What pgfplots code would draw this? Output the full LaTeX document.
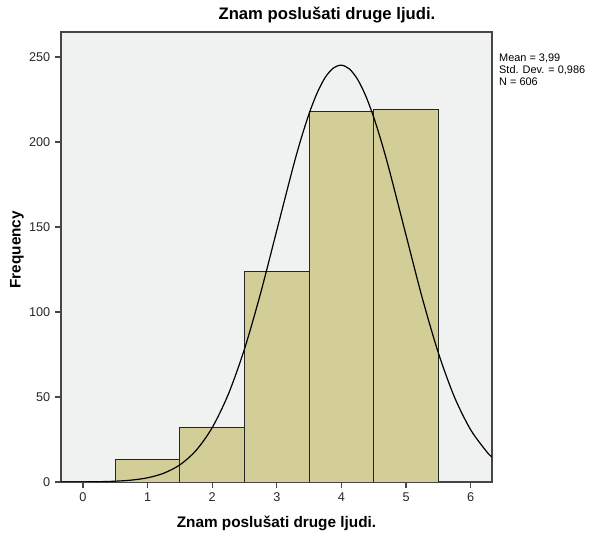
\documentclass[border=0pt]{standalone}
\usepackage{fontspec}
\setmainfont{Liberation Sans}
\setsansfont{Liberation Sans}
\usepackage{pgfplots}
\pgfplotsset{compat=1.18}

\definecolor{barfill}{RGB}{211,206,151}
\definecolor{plotbg}{RGB}{240,241,241}
\definecolor{frame}{RGB}{70,70,70}

\begin{document}
\begin{tikzpicture}
\begin{axis}[
    scale only axis,
    width=323.25pt, height=337.5pt,
    xmin=-0.34, xmax=6.33,
    ymin=0, ymax=264.7,
    xtick={0,1,2,3,4,5,6},
    ytick={0,50,100,150,200,250},
    tick align=outside,
    xtick pos=left, ytick pos=left,
    major tick length=4.5pt,
    axis line style={frame, line width=1.1pt},
    every tick/.style={frame, line width=1pt},
    axis background/.style={fill=plotbg},
    /pgf/number format/assume math mode=true,
    ticklabel style={font=\fontsize{9.5}{10}\selectfont, text=black!85},
    title={Znam poslušati druge ljudi.},
    title style={at={(axis description cs:0.617,1.038)}, anchor=center, yshift=-6pt, font=\fontsize{12.5}{14}\selectfont\bfseries},
    xlabel={Znam poslušati druge ljudi.},
    xlabel style={at={(axis description cs:0.5,-0.091)}, anchor=center, font=\fontsize{11.5}{13}\selectfont\bfseries},
    ylabel={Frequency},
    ylabel style={at={(axis description cs:-0.102,0.516)}, anchor=center, rotate=0, font=\fontsize{11.5}{13}\selectfont\bfseries},
    clip mode=individual,
]
% histogram counts (bins centred on 1..5)
\addplot[ybar interval, fill=barfill, draw=black!85, line width=0.7pt]
    coordinates {(0.5,13)(1.5,32)(2.5,124)(3.5,218)(4.5,219)(5.5,219)};
% fitted normal curve
\addplot[black, line width=0.9pt, smooth]
    coordinates {(-0.34,0.02)(0,0.07)(0.25,0.18)(0.5,0.47)(0.75,1.11)(1,2.47)
                 (1.25,5.16)(1.5,10.10)(1.75,18.57)(2,31.99)(2.25,51.68)
                 (2.5,78.28)(2.75,111.20)(3,148.11)(3.25,185.01)(3.375,201.86)
                 (3.5,216.71)(3.625,228.96)(3.75,238.04)(3.875,243.5)(4,245.19)
                 (4.125,242.9)(4.25,236.82)(4.375,227.20)(4.5,214.49)(4.625,199.28)
                 (4.75,182.17)(5,145.12)(5.25,108.37)(5.5,75.91)
                 (5.75,49.85)(6,30.70)(6.25,17.73)(6.33,14.67)};
\node[anchor=north west, align=left, inner sep=0pt, font=\fontsize{8.2}{9}\selectfont]
    at (rel axis cs:1.016,0.951) {Mean = 3,99\\Std. Dev. = 0,986\\N = 606};
\end{axis}
\pgfresetboundingbox
\path[use as bounding box] (-45.75pt,-42pt) rectangle (396.75pt,361.5pt);
\end{tikzpicture}
\end{document}
